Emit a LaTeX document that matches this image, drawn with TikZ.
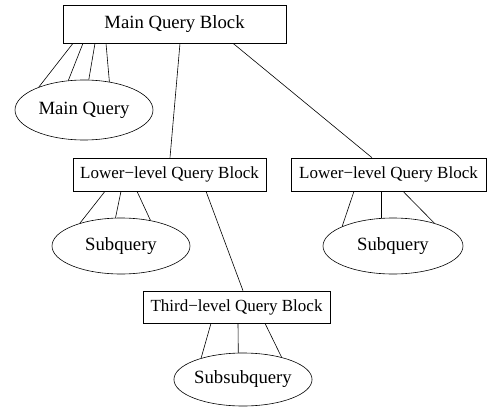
\documentclass[tikz,border=0pt]{standalone}
\usepackage{fontspec}
\setmainfont{Liberation Serif}
\usetikzlibrary{shapes.geometric}
\begin{document}
\begin{tikzpicture}[x=1pt,y=-1pt,
  blk/.style={draw,rectangle,inner sep=0pt,line width=0.6pt},
  qry/.style={draw,ellipse,inner sep=0pt,line width=0.6pt,font=\fontsize{18.7}{20}\selectfont},
  edge/.style={line width=0.6pt}]
\useasboundingbox (0,0) rectangle (487,407);
\node[blk,minimum width=223,minimum height=38,font=\fontsize{18.7}{20}\selectfont] (mqb) at (174.5,24) {Main Query Block};
\node[qry,minimum width=138,minimum height=60] (mq) at (84,110) {Main Query};
\node[blk,minimum width=193,minimum height=33,font=\fontsize{17}{19}\selectfont] (lb1) at (169.5,174.5) {Lower−level Query Block};
\node[blk,minimum width=195,minimum height=33,font=\fontsize{17}{19}\selectfont] (lb2) at (388.5,174.5) {Lower−level Query Block};
\node[qry,minimum width=138,minimum height=56] (sq1) at (121,246) {Subquery};
\node[qry,minimum width=140,minimum height=56] (sq2) at (393,246) {Subquery};
\node[blk,minimum width=187,minimum height=32,font=\fontsize{17}{19}\selectfont] (tb) at (236.5,307) {Third−level Query Block};
\node[qry,minimum width=138,minimum height=53] (ssq) at (243,379.5) {Subsubquery};
% main block to main query
\draw[edge] ([xshift=-101.5]mqb.south) -- (mq.153);
\draw[edge] ([xshift=-91.5]mqb.south) -- (mq.118);
\draw[edge] ([xshift=-79.5]mqb.south) -- (mq.81);
\draw[edge] ([xshift=-68.5]mqb.south) -- (mq.48);
% main block to lower blocks
\draw[edge] ([xshift=5.5]mqb.south) -- ([xshift=0.5]lb1.north);
\draw[edge] ([xshift=58.5]mqb.south) -- ([xshift=-16.5]lb2.north);
% lower block 1 to subquery
\draw[edge] ([xshift=-64.5]lb1.south) -- (sq1.151.6);
\draw[edge] ([xshift=-48.5]lb1.south) -- (sq1.101.8);
\draw[edge] ([xshift=-32.5]lb1.south) -- (sq1.41.6);
% lower block 2 to subquery
\draw[edge] ([xshift=-34.5]lb2.south) -- (sq2.159.8);
\draw[edge] ([xshift=-7.5]lb2.south) -- ([xshift=-7.5]sq2.north -| lb2.south);
\draw[edge] ([xshift=14.5]lb2.south) -- (sq2.29.7);
% lower block 1 to third
\draw[edge] ([xshift=36.5]lb1.south) -- ([xshift=6.5]tb.north);
% third to subsubquery
\draw[edge] ([xshift=-25.5]tb.south) -- (ssq.153);
\draw[edge] ([xshift=1.5]tb.south) -- (ssq.100.5);
\draw[edge] ([xshift=28.5]tb.south) -- (ssq.30.7);
\end{tikzpicture}
\end{document}
